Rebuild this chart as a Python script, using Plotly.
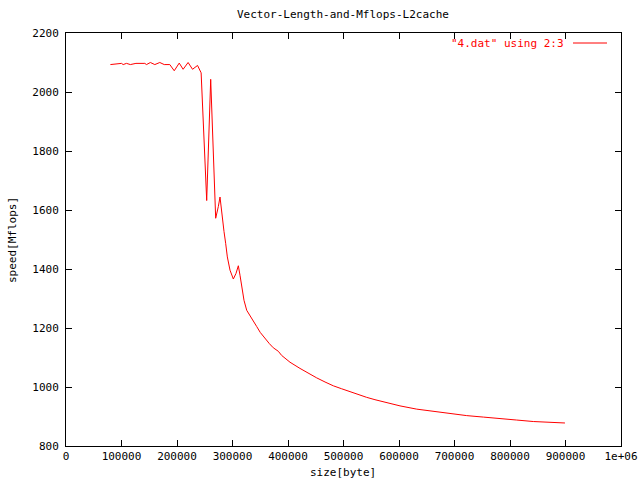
import plotly.graph_objects as go

# data
size_bytes = [80000, 94000, 100000, 103000, 109000, 116000, 126000, 142000, 145000,
              152000, 160000, 169000, 177000, 187000, 195000, 204000, 211000, 220000,
              228000, 237000, 241000, 243500, 253500, 260700, 269700, 272000, 274500,
              277500, 281700, 284700, 287700, 290700, 295500, 301500, 306300, 310500,
              313500, 316500, 320700, 325600, 331500, 337500, 343600, 350000, 358600,
              366400, 373500, 382600, 388600, 403600, 421600, 436600, 451700, 466700,
              481700, 496700, 511700, 526700, 541700, 556700, 571700, 586700, 601800,
              631900, 661900, 691900, 722000, 752000, 782000, 812000, 842000, 872000,
              899000]
speed_mflops = [2093, 2097, 2097, 2093, 2097, 2093, 2097, 2097, 2093,
                2100, 2093, 2100, 2093, 2093, 2072, 2098, 2077, 2100,
                2077, 2090, 2075, 2065, 1632, 2043, 1572, 1589, 1612,
                1644, 1566, 1527, 1487, 1441, 1396, 1366, 1385, 1411,
                1379, 1339, 1294, 1260, 1243, 1226, 1205, 1185, 1163,
                1147, 1133, 1121, 1107, 1084, 1063, 1046, 1031, 1017,
                1004, 994, 984, 974, 965, 957, 950, 943, 936,
                925, 917, 910, 903, 898, 892, 888, 883, 881,
                878]

x_tick_vals = [0, 100000, 200000, 300000, 400000, 500000, 600000, 700000, 800000, 900000, 1000000]
x_tick_text = ["0", "100000", "200000", "300000", "400000", "500000", "600000",
               "700000", "800000", "900000", "1e+06"]
y_tick_vals = [800, 1000, 1200, 1400, 1600, 1800, 2000, 2200]

title_text = "Vector-Length-and-Mflops-L2cache"
x_title = "size[byte]"
y_title = "speed[Mflops]"
legend_text = '"4.dat" using 2:3'

FONT = "DejaVu Sans Mono"
L, R, T, B = 66, 621, 33, 446
PW, PH = R - L, B - T

fig = go.Figure()
fig.add_trace(go.Scatter(x=size_bytes, y=speed_mflops, mode="lines",
                         line=dict(color="#ff0000", width=1),
                         name=legend_text, showlegend=False))

axis_common = dict(showgrid=False, zeroline=False, showline=True, linecolor="black",
                   linewidth=1, mirror="ticks", ticks="inside", ticklen=6,
                   tickcolor="black", tickwidth=1, automargin=False,
                   tickfont=dict(family=FONT, size=11, color="black"))

fig.update_layout(
    width=640, height=480,
    margin=dict(l=L, r=640 - R, t=T, b=480 - B, pad=0, autoexpand=False),
    paper_bgcolor="white", plot_bgcolor="white",
    xaxis=dict(range=[0, 1000000], tickvals=x_tick_vals, ticktext=x_tick_text,
               **axis_common),
    yaxis=dict(range=[800, 2200], tickvals=y_tick_vals, ticklabelstandoff=4,
               **axis_common),
    showlegend=False,
)

def px_x(p):
    return (p - L) / PW

def px_y(p):
    return (B - p) / PH

# title and axis titles
fig.add_annotation(text=title_text, xref="paper", yref="paper", x=px_x(343), y=px_y(15),
                   xanchor="center", yanchor="middle", showarrow=False,
                   font=dict(family=FONT, size=11, color="black"))
fig.add_annotation(text=x_title, xref="paper", yref="paper", x=px_x(343), y=px_y(472),
                   xanchor="center", yanchor="middle", showarrow=False,
                   font=dict(family=FONT, size=11, color="black"))
fig.add_annotation(text=y_title, xref="paper", yref="paper", x=px_x(12), y=px_y(240),
                   xanchor="center", yanchor="middle", showarrow=False, textangle=-90,
                   font=dict(family=FONT, size=11, color="black"))

# legend (gnuplot style: text on the left, line sample on the right)
fig.add_annotation(text=legend_text, xref="paper", yref="paper",
                   x=px_x(566), y=px_y(43), xanchor="right", yanchor="middle",
                   showarrow=False, font=dict(family=FONT, size=11, color="#ff0000"))
fig.add_shape(type="line", xref="paper", yref="paper",
              x0=px_x(573), x1=px_x(607), y0=px_y(43), y1=px_y(43),
              line=dict(color="#ff0000", width=1))

fig.write_html("out.html", config={"displayModeBar": False},
               post_script="document.body.style.margin='0';document.body.style.overflow='hidden';")
